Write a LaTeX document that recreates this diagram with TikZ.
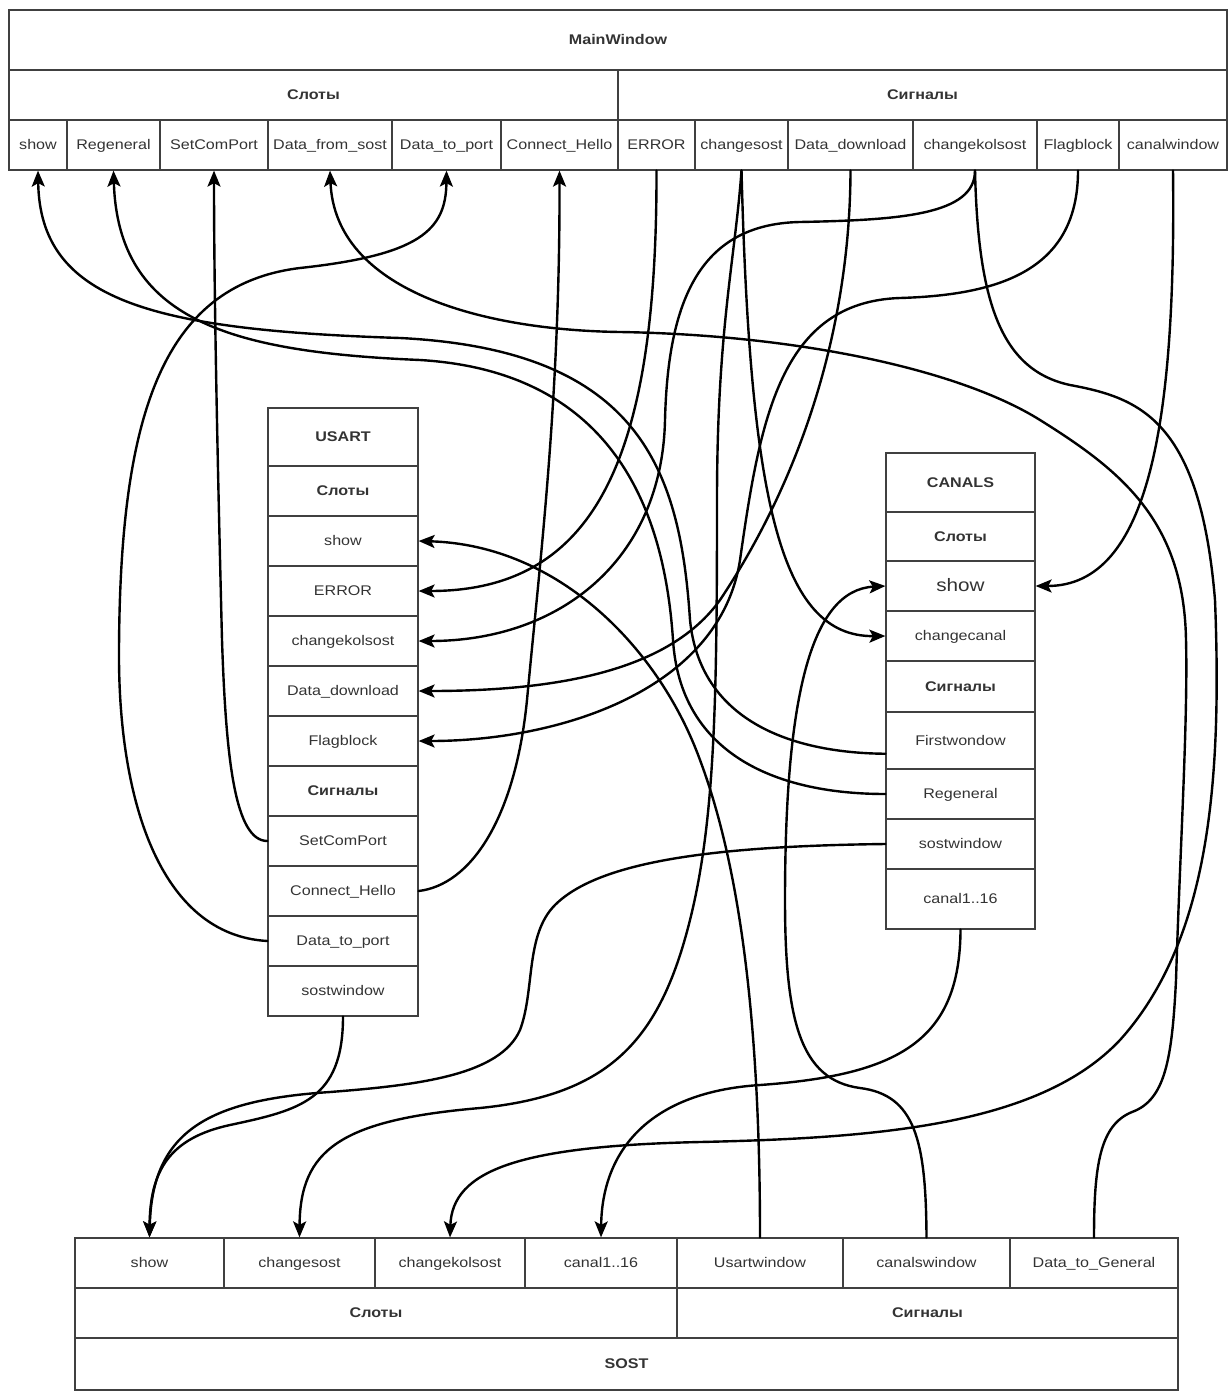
\documentclass[tikz,border=0pt]{standalone}
\usepackage{fontspec}
\setmainfont{Liberation Sans}[FakeStretch=1.15]
\usetikzlibrary{arrows.meta}
\begin{document}
\begin{tikzpicture}[x=1pt, y=-1pt,
  cell/.style={draw=black!75, line width=1.2pt, inner sep=0pt, minimum height=50pt, text height=11pt, text depth=2pt, text=black!80, font=\fontsize{14}{16}\selectfont},
  head/.style={cell, font=\fontsize{14}{16}\selectfont\bfseries},
  wire/.style={line width=2.4pt, line cap=round, -{Stealth[length=16pt,width=13pt,inset=3.5pt]}}]
\useasboundingbox (0,0) rectangle (1228,1391);
\begin{scope}
% MainWindow
\node[head, minimum width=1218pt, minimum height=60pt] (mw) at (618,40) {MainWindow};
\node[head, minimum width=609pt] (mw-slots) at (313.5,95) {Слоты};
\node[head, minimum width=609pt] (mw-sigs) at (922.5,95) {Сигналы};
\node[cell, minimum width=58pt] (mw-show) at (38,145) {show};
\node[cell, minimum width=93pt] (mw-rg) at (113.5,145) {Regeneral};
\node[cell, minimum width=108pt] (mw-scp) at (214,145) {SetComPort};
\node[cell, minimum width=124pt] (mw-dfs) at (330,145) {Data\_from\_sost};
\node[cell, minimum width=109pt] (mw-dtp) at (446.5,145) {Data\_to\_port};
\node[cell, minimum width=117pt] (mw-ch) at (559.5,145) {Connect\_Hello};
\node[cell, minimum width=77pt] (mw-err) at (656.5,145) {ERROR};
\node[cell, minimum width=93pt] (mw-cs) at (741.5,145) {changesost};
\node[cell, minimum width=125pt] (mw-dd) at (850.5,145) {Data\_download};
\node[cell, minimum width=124pt] (mw-ck) at (975,145) {changekolsost};
\node[cell, minimum width=82pt] (mw-fb) at (1078,145) {Flagblock};
\node[cell, minimum width=108pt] (mw-caw) at (1173,145) {canalwindow};
% USART
\node[head, minimum width=150pt, minimum height=58pt] (us) at (343,437) {USART};
\node[head, minimum width=150pt] (us-slots) at (343,491) {Слоты};
\node[cell, minimum width=150pt] (us-show) at (343,541) {show};
\node[cell, minimum width=150pt] (us-err) at (343,591) {ERROR};
\node[cell, minimum width=150pt] (us-ck) at (343,641) {changekolsost};
\node[cell, minimum width=150pt] (us-dd) at (343,691) {Data\_download};
\node[cell, minimum width=150pt] (us-fb) at (343,741) {Flagblock};
\node[head, minimum width=150pt] (us-sigs) at (343,791) {Сигналы};
\node[cell, minimum width=150pt] (us-scp) at (343,841) {SetComPort};
\node[cell, minimum width=150pt] (us-ch) at (343,891) {Connect\_Hello};
\node[cell, minimum width=150pt] (us-dtp) at (343,941) {Data\_to\_port};
\node[cell, minimum width=150pt] (us-sw) at (343,991) {sostwindow};
% CANALS
\node[head, minimum width=149pt, minimum height=59pt] (cn) at (960.5,482.5) {CANALS};
\node[head, minimum width=149pt, minimum height=49pt] (cn-slots) at (960.5,536.5) {Слоты};
\node[cell, minimum width=149pt, text height=14pt, text depth=3pt, font=\fontsize{18}{20}\selectfont] (cn-show) at (960.5,586) {show};
\node[cell, minimum width=149pt] (cn-chc) at (960.5,636) {changecanal};
\node[head, minimum width=149pt, minimum height=51pt] (cn-sigs) at (960.5,686.5) {Сигналы};
\node[cell, minimum width=149pt, minimum height=57pt] (cn-fw) at (960.5,740.5) {Firstwondow};
\node[cell, minimum width=149pt] (cn-rg) at (960.5,794) {Regeneral};
\node[cell, minimum width=149pt] (cn-sw) at (960.5,844) {sostwindow};
\node[cell, minimum width=149pt, minimum height=60pt] (cn-c16) at (960.5,899) {canal1..16};
% SOST
\node[cell, minimum width=149pt] (so-show) at (149.5,1263) {show};
\node[cell, minimum width=151pt] (so-cs) at (299.5,1263) {changesost};
\node[cell, minimum width=150pt] (so-ck) at (450,1263) {changekolsost};
\node[cell, minimum width=152pt] (so-c16) at (601,1263) {canal1..16};
\node[cell, minimum width=166pt] (so-usw) at (760,1263) {Usartwindow};
\node[cell, minimum width=167pt] (so-caw) at (926.5,1263) {canalswindow};
\node[cell, minimum width=168pt] (so-dtg) at (1094,1263) {Data\_to\_General};
\node[head, minimum width=602pt] (so-slots) at (376,1313) {Слоты};
\node[head, minimum width=501pt] (so-sigs) at (927.5,1313) {Сигналы};
\node[head, minimum width=1103pt, minimum height=52pt] (so) at (626.5,1364) {SOST};
\end{scope}
\begin{scope}
% MainWindow signals
\draw[wire] (mw-err.south) .. controls (657,450) and (600,591) .. (us-err.east);
\draw[wire] (mw-cs.south) .. controls (735,260) and (717,330) .. (717,500) .. controls (717,700) and (715,820) .. (690,920) .. controls (660,1040) and (610,1095) .. (480,1108) .. controls (340,1120) and (300,1150) .. (so-cs.north);
\draw[wire] (mw-cs.south) .. controls (750,500) and (780,637) .. (cn-chc.west);
\draw[wire] (mw-dd.south) .. controls (850,330) and (800,480) .. (720,600) .. controls (670,670) and (560,691) .. (us-dd.east);
\draw[wire] (mw-ck.south) .. controls (975,215) and (900,220) .. (800,222) .. controls (700,224) and (668,300) .. (665,420) .. controls (662,560) and (560,641) .. (us-ck.east);
\draw[wire] (mw-ck.south) .. controls (978,300) and (1000,370) .. (1070,385) .. controls (1140,398) and (1200,420) .. (1215,600) .. controls (1222,780) and (1210,940) .. (1120,1040) .. controls (1040,1125) and (880,1138) .. (700,1142) .. controls (520,1146) and (452,1170) .. (so-ck.north);
\draw[wire] (mw-fb.south) .. controls (1078,270) and (1000,295) .. (900,298) .. controls (780,302) and (760,420) .. (740,560) .. controls (720,690) and (560,741) .. (us-fb.east);
\draw[wire] (mw-caw.south) .. controls (1176,420) and (1150,586) .. (cn-show.east);
% USART signals
\draw[wire] (us-scp.west) .. controls (235,841) and (226,760) .. (222,640) .. controls (218,480) and (214,300) .. (mw-scp.south);
\draw[wire] (us-ch.east) .. controls (470,885) and (515,820) .. (527,700) .. controls (540,560) and (560,400) .. (mw-ch.south);
\draw[wire] (us-dtp.west) .. controls (160,935) and (118,800) .. (119,650) .. controls (120,420) and (160,285) .. (300,268) .. controls (420,255) and (446,230) .. (mw-dtp.south);
\draw[wire] (us-sw.south) .. controls (343,1100) and (300,1110) .. (230,1125) .. controls (170,1138) and (150,1170) .. (so-show.north);
% CANALS signals
\draw[wire] (cn-fw.190) .. controls (790,753) and (700,720) .. (690,620) .. controls (680,470) and (640,350) .. (400,338) .. controls (150,330) and (40,300) .. (mw-show.south);
\draw[wire] (cn-rg.west) .. controls (770,794) and (680,750) .. (673,640) .. controls (665,520) and (620,372) .. (420,360) .. controls (230,352) and (118,320) .. (mw-rg.south);
\draw[wire] (cn-sw.west) .. controls (720,846) and (600,860) .. (555,905) .. controls (525,935) and (535,990) .. (520,1030) .. controls (500,1075) and (420,1085) .. (330,1092) .. controls (210,1100) and (152,1130) .. (so-show.north);
\draw[wire] (cn-c16.south) .. controls (960,1040) and (900,1075) .. (760,1085) .. controls (650,1092) and (602,1150) .. (so-c16.north);
% SOST signals
\draw[wire] (so-usw.north) .. controls (760,1050) and (745,880) .. (700,760) .. controls (660,650) and (560,545) .. (us-show.east);
\draw[wire] (so-caw.north) .. controls (926,1140) and (915,1095) .. (860,1088) .. controls (800,1080) and (785,1020) .. (785,900) .. controls (785,700) and (810,590) .. (cn-show.west);
\draw[wire] (so-dtg.north) .. controls (1094,1165) and (1100,1125) .. (1132,1112) .. controls (1165,1100) and (1172,1060) .. (1176,980) .. controls (1180,850) and (1188,720) .. (1186,640) .. controls (1184,520) and (1120,470) .. (1040,420) .. controls (960,370) and (800,335) .. (620,332) .. controls (480,330) and (335,290) .. (mw-dfs.south);
\end{scope}
\end{tikzpicture}
\end{document}
